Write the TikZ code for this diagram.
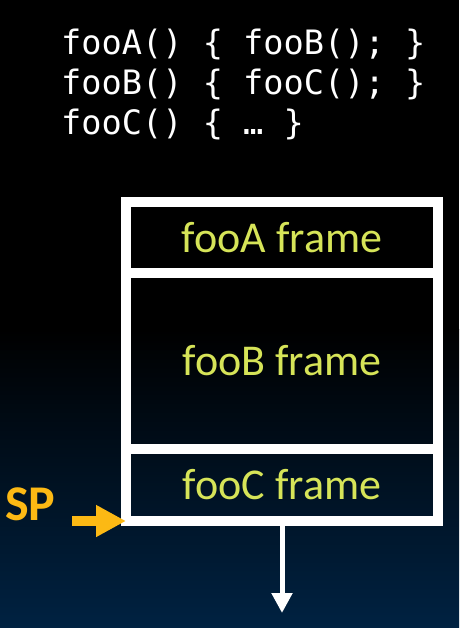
\documentclass[tikz,border=0pt]{standalone}
\usepackage{fontspec}
\usetikzlibrary{arrows.meta}
\newfontfamily\codefont{DejaVu Sans Mono}
\newfontfamily\labfont{Carlito}
\definecolor{navy}{RGB}{0,34,66}
\definecolor{lime}{RGB}{214,228,88}
\definecolor{spyellow}{RGB}{252,185,20}
\begin{document}
\begin{tikzpicture}[x=1pt,y=-1pt,
  frame/.style={draw=white,line width=10pt,inner sep=0pt,outer sep=0pt,minimum width=312pt,
    font=\labfont\fontsize{44}{44}\selectfont,text=lime},
  code/.style={anchor=base west,inner sep=0pt,text=white,font=\codefont\fontsize{33.6}{33.6}\selectfont}]
\useasboundingbox (0,0) rectangle (459,628);
\fill[black] (0,0) rectangle (459,330);
\shade[top color=black,bottom color=navy] (0,329) rectangle (459,628);
\node[code] (l1) at (61,55) {fooA() \{ fooB(); \}};
\node[code] (l2) at (61,95) {fooB() \{ fooC(); \}};
\node[code] (l3) at (61,135) {fooC() \{ … \}};
\node[frame,minimum height=71pt,anchor=north west] (fa) at (126,202) {fooA frame};
\node[frame,minimum height=176pt,anchor=north] (fb) at (fa.south) {fooB frame};
\node[frame,minimum height=72pt,anchor=north] (fc) at (fb.south) {fooC frame};
\coordinate (down) at (282,613);
\draw[white,line width=5pt,-{Triangle[width=20pt,length=20pt]}] (fc.south) -- (down);
\coordinate (spstart) at (72,521);
\draw[spyellow,line width=10pt,-{Triangle[width=30pt,length=30pt]}] (spstart) -- (fc.south west);
\node[text=spyellow,font=\labfont\bfseries\fontsize{50}{50}\selectfont,inner sep=0pt,anchor=base west] (sp) at (5,520) {SP};
\end{tikzpicture}
\end{document}
